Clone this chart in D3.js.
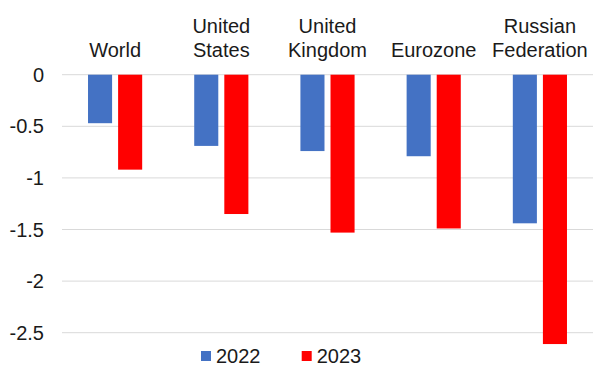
<!DOCTYPE html>
<html>
<head>
<meta charset="utf-8">
<script src="https://cdn.jsdelivr.net/npm/d3@7"></script>
<style>
  body { margin: 0; background: #fff; }
  text { font-family: "Liberation Sans", Arial, sans-serif; fill: #1a1a1a; }
</style>
</head>
<body>
<svg id="chart" width="593" height="367"></svg>
<script>
// data
const categories = [['World'], ['United', 'States'], ['United', 'Kingdom'], ['Eurozone'], ['Russian', 'Federation']];
const series = ['2022', '2023'];
const values2022 = [-0.47, -0.69, -0.74, -0.79, -1.44];
const values2023 = [-0.92, -1.35, -1.53, -1.49, -2.61];
const yTicks = [0, -0.5, -1, -1.5, -2, -2.5];
const colors = ['#4472C4', '#FF0000'];

const svg = d3.select('#chart');
const plotLeft = 62, plotRight = 593, plotTop = 74.7, plotBottom = 332.7;
const fontSize = '20px';

const x = d3.scaleBand()
  .domain(d3.range(categories.length))
  .range([plotLeft, plotRight])
  .paddingInner(0.49)
  .paddingOuter(0.245);

const x1 = d3.scaleBand()
  .domain(series)
  .range([0, x.bandwidth()])
  .paddingInner(0.2);

const y = d3.scaleLinear().domain([0, -2.5]).range([plotTop, plotBottom]);

// grid
svg.append('g')
  .selectAll('line')
  .data(yTicks)
  .enter()
  .append('line')
  .attr('x1', plotLeft)
  .attr('x2', plotRight)
  .attr('y1', d => y(d))
  .attr('y2', d => y(d))
  .attr('stroke', '#d9d9d9')
  .attr('stroke-width', 1);

// y labels
svg.append('g')
  .selectAll('text')
  .data(yTicks)
  .enter()
  .append('text')
  .attr('x', 44)
  .attr('y', d => y(d))
  .attr('dy', '0.35em')
  .attr('text-anchor', 'end')
  .attr('font-size', fontSize)
  .text(d => d);

// bars
const rows = categories.map((c, i) => ({ i, vals: [values2022[i], values2023[i]] }));
const groups = svg.append('g')
  .selectAll('g')
  .data(rows)
  .enter()
  .append('g')
  .attr('transform', d => `translate(${x(d.i)},0)`);

groups.selectAll('rect')
  .data(d => d.vals.map((v, k) => ({ k, v })))
  .enter()
  .append('rect')
  .attr('x', d => x1(series[d.k]))
  .attr('y', y(0))
  .attr('width', x1.bandwidth())
  .attr('height', d => y(d.v) - y(0))
  .attr('fill', d => colors[d.k]);

// category labels
const lab = svg.append('g')
  .selectAll('text')
  .data(categories)
  .enter()
  .append('text')
  .attr('text-anchor', 'middle')
  .attr('font-size', fontSize);
lab.each(function (lines, i) {
  const t = d3.select(this);
  const cx = x(i) + x.bandwidth() / 2;
  lines.forEach((s, j) => {
    t.append('tspan')
      .attr('x', cx)
      .attr('y', 56.5 - (lines.length - 1 - j) * 24)
      .text(s);
  });
});

// legend
const legX = [201, 301.7];
const leg = svg.append('g')
  .selectAll('g')
  .data(series)
  .enter()
  .append('g')
  .attr('transform', (d, i) => `translate(${legX[i]},351)`);
leg.append('rect')
  .attr('width', 10)
  .attr('height', 10)
  .attr('fill', (d, i) => colors[i]);
leg.append('text')
  .attr('x', 15)
  .attr('y', 12)
  .attr('font-size', fontSize)
  .text(d => d);
</script>
</body>
</html>
